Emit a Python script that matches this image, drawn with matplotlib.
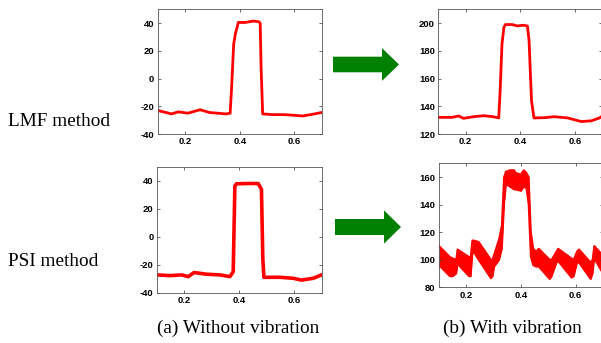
import numpy as np
import matplotlib
matplotlib.use("Agg")
import matplotlib.pyplot as plt
from matplotlib.patches import FancyArrow

plt.rcParams['axes.unicode_minus'] = False

# ---------------- data ----------------
# LMF, without vibration
x_tl = [0.10, 0.12, 0.15, 0.176, 0.21, 0.255, 0.29, 0.35, 0.365, 0.370, 0.378, 0.385, 0.395,
        0.42, 0.45, 0.47, 0.475, 0.478, 0.484, 0.52, 0.56, 0.60, 0.63, 0.66, 0.70]
y_tl = [-23, -24, -25.5, -24, -25, -22.5, -24.5, -25.5, -25, -8, 25, 33, 40.5,
        40.5, 41.5, 41, 40, 10, -25.5, -26, -26, -26.5, -27, -26, -24.5]

# LMF, with vibration
x_tr = [0.10, 0.15, 0.174, 0.192, 0.23, 0.266, 0.30, 0.321, 0.326, 0.333, 0.340, 0.346, 0.37,
        0.389, 0.41, 0.426, 0.432, 0.441, 0.45, 0.49, 0.524, 0.573, 0.623, 0.66, 0.69, 0.70]
y_tr = [132, 132, 133, 131.3, 132.5, 133.2, 132.5, 131.6, 150, 185, 197, 199, 199,
        198, 198.5, 198, 187.5, 144, 131.6, 131.8, 132.5, 131.6, 129, 129.5, 131.6, 133]

# PSI, without vibration
x_bl = [0.10, 0.147, 0.19, 0.214, 0.235, 0.281, 0.33, 0.366, 0.378, 0.384, 0.39, 0.43,
        0.469, 0.481, 0.486, 0.49, 0.548, 0.597, 0.627, 0.67, 0.70]
y_bl = [-27.3, -27.8, -27.3, -28.5, -25.6, -26.8, -27.3, -28.5, -25, 36.2, 37.8, 38,
        38, 33.8, -16, -29, -29, -29.7, -31, -29.7, -27.3]

# PSI, with vibration (upper / lower envelope of the oscillating band)
x_br = [0.100, 0.105, 0.140, 0.150, 0.163, 0.168, 0.210, 0.216, 0.222, 0.226, 0.245, 0.290,
        0.296, 0.302, 0.320, 0.330, 0.338, 0.345, 0.360, 0.375, 0.380, 0.400, 0.410, 0.420,
        0.428, 0.436, 0.445, 0.455, 0.465, 0.505, 0.512, 0.530, 0.536, 0.585, 0.593, 0.605,
        0.612, 0.655, 0.662, 0.668, 0.700]
hi_br = [110, 109, 102, 101, 100, 107.5, 102, 102, 114, 114, 113, 100,
         100, 104, 115, 125, 160, 164, 165, 165, 163, 162, 165, 163,
         160, 120, 108, 106, 108, 100, 100, 106, 108, 101, 100, 106,
         107.5, 98, 100, 110, 103]
lo_br = [96, 95, 88, 88, 90, 97, 88, 88, 104, 106, 100, 86.5,
         88, 95, 100, 108, 140, 155, 153, 151, 151, 150, 153, 152,
         140, 102, 96, 95, 95, 86, 88, 98, 99, 87, 88, 98,
         98, 86, 90, 101, 90]

xticks = [0.2, 0.4, 0.6]
ylims = [(-40, 50), (120, 210), (-40, 50), (80, 170)]
yticks = [[-40, -20, 0, 20, 40], [120, 140, 160, 180, 200],
          [-40, -20, 0, 20, 40], [80, 100, 120, 140, 160]]

# ---------------- figure ----------------
W, H = 601, 343
fig = plt.figure(figsize=(W / 100, H / 100), dpi=100)

def px_axes(x0, y0, x1, y1):
    # pixel box (top-left origin) -> axes
    return fig.add_axes([x0 / W, 1 - y1 / H, (x1 - x0) / W, (y1 - y0) / H])

boxes = [(157.7, 9.3, 321.7, 134), (438.3, 9.3, 602.3, 134),
         (157, 166.7, 321.5, 292.7), (439, 163.3, 603, 287.3)]
axs = [px_axes(*b) for b in boxes]

red = '#ff0000'
axs[0].plot(x_tl, y_tl, color=red, lw=2.0)
axs[1].plot(x_tr, y_tr, color=red, lw=2.0)
axs[2].plot(x_bl, y_bl, color=red, lw=2.6)
axs[3].fill_between(x_br, lo_br, hi_br, color=red, lw=0)
axs[3].plot(x_br, hi_br, color=red, lw=1.4)
axs[3].plot(x_br, lo_br, color=red, lw=1.4)

for ax, yl, yt in zip(axs, ylims, yticks):
    ax.set_xlim(0.1, 0.7)
    ax.set_ylim(*yl)
    ax.set_xticks(xticks)
    ax.set_yticks(yt)
    ax.tick_params(direction='in', length=2, width=0.5, top=True, right=True,
                   labelsize=6.8, pad=2.4, colors='#333333', labelcolor='black')
    for lab in ax.get_xticklabels() + ax.get_yticklabels():
        lab.set_fontweight('bold')
        lab.set_family('Liberation Sans')
    for sp in ax.spines.values():
        sp.set_linewidth(0.6)
        sp.set_color('#555555')

# green arrows
green = '#008000'
for (x0, x1, yc, bh, hh) in [(333, 399, 64.5, 15.6, 32.7), (335, 401, 227, 16, 33.3)]:
    ar = FancyArrow(x0 / W, 1 - yc / H, (x1 - x0) / W, 0, width=bh / H,
                    head_width=hh / H, head_length=17 / W, length_includes_head=True,
                    transform=fig.transFigure, color=green, lw=0)
    fig.patches.append(ar)

serif = 'Liberation Serif'
fig.text(8 / W, 1 - 121 / H, 'LMF method', family=serif, fontsize=13.9, va='center', ha='left')
fig.text(8 / W, 1 - 262 / H, 'PSI method', family=serif, fontsize=13.9, va='center', ha='left')
fig.text(238 / W, 1 - 328 / H, '(a) Without vibration', family=serif, fontsize=13.9,
         va='center', ha='center')
fig.text(512 / W, 1 - 328 / H, '(b) With vibration', family=serif, fontsize=13.9,
         va='center', ha='center')

fig.savefig('out.png', dpi=100)
